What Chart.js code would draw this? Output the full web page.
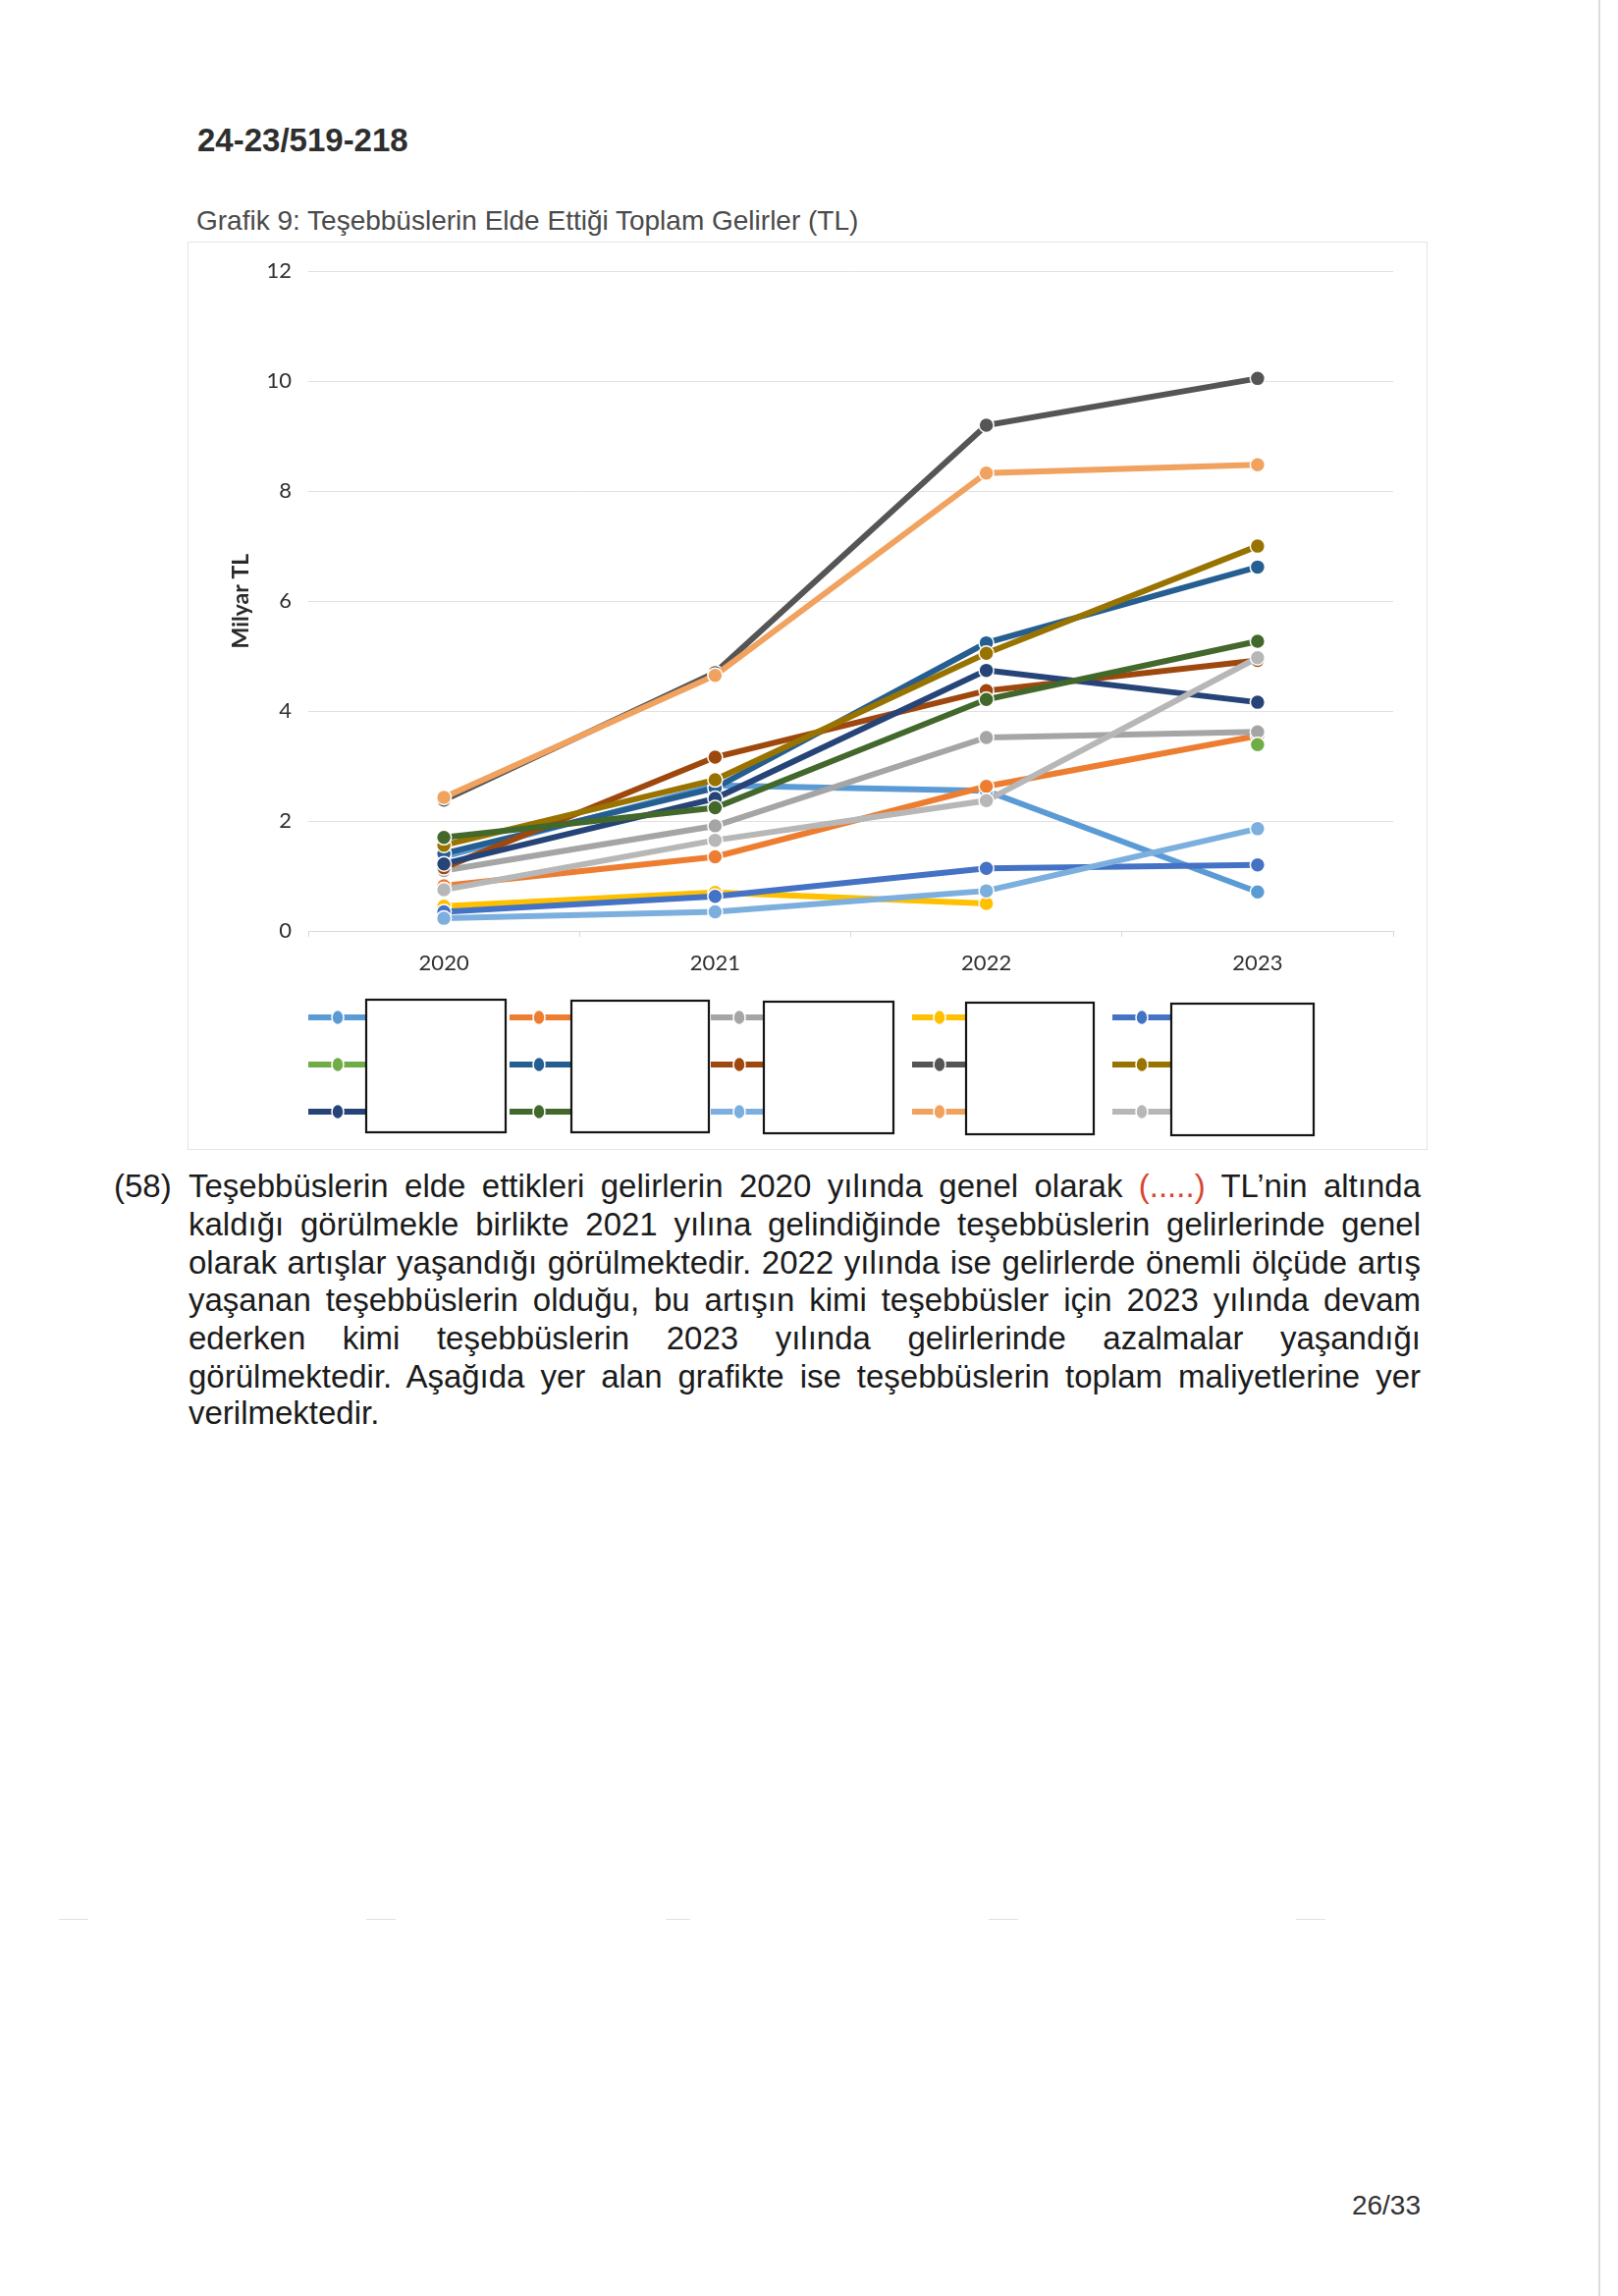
<!DOCTYPE html>
<html>
<head>
<meta charset="UTF-8">
<title>Grafik 9: Teşebbüslerin Elde Ettiği Toplam Gelirler (TL)</title>
<script src="https://cdn.jsdelivr.net/npm/chart.js"></script>
<style>
  body { margin:0; background:#fff; width:1648px; height:2338px; position:relative; overflow:hidden;
         font-family:"Liberation Sans", Arial, sans-serif; color:#1b1b1b; }
  .abs { position:absolute; white-space:nowrap; }
  #docNo { left:201px; top:123px; font-size:33px; line-height:40px; font-weight:bold; color:#2e2e2e; }
  #caption { left:200px; top:208px; font-size:28px; line-height:34px; color:#4a4a4a; }
  #frame { position:absolute; left:191px; top:246px; width:1263px; height:925px; border:1px solid #e4e4e4; box-sizing:border-box; }
  #chart { position:absolute; left:191px; top:246px; }
  .ln { position:absolute; left:192px; width:1255px; font-size:33px; line-height:38px; text-align:justify; text-align-last:justify; }
  .ln.last { text-align-last:left; }
  #num { left:116px; top:1189px; font-size:33px; line-height:38px; }
  .red { color:#d8452f; }
  #page { right:201px; top:2229px; font-size:28px; line-height:34px; color:#333; }
  #edge { position:absolute; left:1628px; top:0; width:2px; height:2338px; background:#dcdcdc; }
  .dash { position:absolute; top:1954px; height:1px; background:#e2e2e2; }
</style>
</head>
<body>
<div id="docNo" class="abs">24-23/519-218</div>
<div id="caption" class="abs">Grafik 9: Teşebbüslerin Elde Ettiği Toplam Gelirler (TL)</div>
<div id="frame"></div>
<canvas id="chart" width="1263" height="925"></canvas>

<div id="num" class="abs">(58)</div>
<div class="ln" style="top:1189px">Teşebbüslerin elde ettikleri gelirlerin 2020 yılında genel olarak <span class="red">(.....)</span> TL’nin altında</div>
<div class="ln" style="top:1228px">kaldığı görülmekle birlikte 2021 yılına gelindiğinde teşebbüslerin gelirlerinde genel</div>
<div class="ln" style="top:1267px">olarak artışlar yaşandığı görülmektedir. 2022 yılında ise gelirlerde önemli ölçüde artış</div>
<div class="ln" style="top:1305px">yaşanan teşebbüslerin olduğu, bu artışın kimi teşebbüsler için 2023 yılında devam</div>
<div class="ln" style="top:1344px">ederken kimi teşebbüslerin 2023 yılında gelirlerinde azalmalar yaşandığı</div>
<div class="ln" style="top:1383px">görülmektedir. Aşağıda yer alan grafikte ise teşebbüslerin toplam maliyetlerine yer</div>
<div class="ln last" style="top:1420px">verilmektedir.</div>

<div class="dash" style="left:60px;width:30px"></div>
<div class="dash" style="left:373px;width:30px"></div>
<div class="dash" style="left:678px;width:25px"></div>
<div class="dash" style="left:1007px;width:30px"></div>
<div class="dash" style="left:1320px;width:30px"></div>
<div id="edge"></div>
<div id="page" class="abs">26/33</div>

<script>
  // years on the x axis
  const years = ['2020', '2021', '2022', '2023'];

  // total income per enterprise, billion TL (names are blanked in the source)
  const t01 = [1.35, 2.65, 2.55, 0.71];
  const t02 = [0.82, 1.35, 2.63, 3.55];
  const t03 = [1.10, 1.91, 3.52, 3.62];
  const t04 = [0.45, 0.70, 0.50, null];
  const t05 = [0.35, 0.63, 1.14, 1.20];
  const t06 = [null, null, null, 3.39];
  const t07 = [1.41, 2.60, 5.24, 6.62];
  const t08 = [1.15, 3.16, 4.37, 4.92];
  const t09 = [2.38, 4.70, 9.20, 10.05];
  const t10 = [1.56, 2.75, 5.05, 7.00];
  const t11 = [1.22, 2.41, 4.74, 4.16];
  const t12 = [1.70, 2.24, 4.21, 5.27];
  const t13 = [0.23, 0.35, 0.73, 1.86];
  const t14 = [2.43, 4.65, 8.33, 8.48];
  const t15 = [0.75, 1.65, 2.37, 4.97];

  const seriesValues = [t01, t02, t03, t04, t05, t06, t07, t08, t09, t10, t11, t12, t13, t14, t15];
  const seriesColors = ['#5B9BD5', '#ED7D31', '#A5A5A5', '#FFC000', '#4472C4',
                        '#70AD47', '#255E91', '#9E480E', '#555555', '#997300',
                        '#264478', '#43682B', '#7CAFDD', '#F0A25E', '#B7B7B7'];

  // legend layout (canvas px): symbol start, marker centre, blank box span
  const legendCols = [
    { sym: 123, mark: 153, box: 182, end: 324, top: 772, bottom: 907 },
    { sym: 328, mark: 358, box: 391, end: 531, top: 773, bottom: 907 },
    { sym: 533, mark: 562, box: 587, end: 719, top: 774, bottom: 908 },
    { sym: 738, mark: 766, box: 793, end: 923, top: 775, bottom: 909 },
    { sym: 942, mark: 972, box: 1002, end: 1147, top: 776, bottom: 910 }
  ];
  const legendRows = [790, 838, 886];

  const boxedLegend = {
    id: 'boxedLegend',
    afterDraw(chart) {
      const ctx = chart.ctx;
      chart.data.datasets.forEach((ds, i) => {
        const c = legendCols[i % 5];
        const y = legendRows[Math.floor(i / 5)];
        ctx.save();
        ctx.strokeStyle = ds.borderColor;
        ctx.lineWidth = 6;
        ctx.beginPath();
        ctx.moveTo(c.sym, y);
        ctx.lineTo(c.box, y);
        ctx.stroke();
        ctx.beginPath();
        ctx.ellipse(c.mark, y, 6, 7.5, 0, 0, Math.PI * 2);
        ctx.fillStyle = ds.borderColor;
        ctx.fill();
        ctx.lineWidth = 1.5;
        ctx.strokeStyle = '#ffffff';
        ctx.stroke();
        ctx.restore();
      });
      legendCols.forEach(c => {
        ctx.save();
        ctx.fillStyle = '#ffffff';
        ctx.fillRect(c.box, c.top, c.end - c.box, c.bottom - c.top);
        ctx.strokeStyle = '#151515';
        ctx.lineWidth = 2.2;
        ctx.strokeRect(c.box, c.top, c.end - c.box, c.bottom - c.top);
        ctx.restore();
      });
    }
  };

  new Chart(document.getElementById('chart'), {
    type: 'line',
    data: {
      labels: years,
      datasets: seriesValues.map((vals, i) => ({
        label: 'Teşebbüs ' + (i + 1),
        data: vals,
        borderColor: seriesColors[i],
        backgroundColor: seriesColors[i],
        pointBackgroundColor: seriesColors[i],
        pointBorderColor: '#ffffff',
        pointBorderWidth: 1.5,
        pointRadius: 7.5,
        borderWidth: 6,
        tension: 0,
        spanGaps: false,
        order: seriesValues.length - i
      }))
    },
    options: {
      responsive: false,
      animation: false,
      devicePixelRatio: 1,
      layout: { padding: { top: 24, right: 35, left: 0, bottom: 0 } },
      plugins: {
        legend: { display: false },
        tooltip: { enabled: false },
        title: { display: false }
      },
      scales: {
        x: {
          offset: true,
          grid: { drawOnChartArea: false, drawTicks: true, tickLength: 6, color: '#d9d9d9', offset: true },
          border: { display: true, color: '#d9d9d9', width: 1 },
          ticks: { color: '#303030', padding: 14, font: { family: 'Lato', size: 22 } },
          afterFit(scale) { scale.height = 223; }
        },
        y: {
          min: 0,
          max: 12,
          ticks: { stepSize: 2, color: '#303030', padding: 17, font: { family: 'Lato', size: 22 } },
          grid: { color: '#e1e1e1', lineWidth: 1, drawTicks: false },
          border: { display: false },
          title: {
            display: true,
            text: 'Milyar TL',
            color: '#2a2a2a',
            font: { family: 'Lato', size: 23, weight: 'bold' },
            padding: { top: 41, bottom: 0 }
          },
          afterFit(scale) { scale.width = 123; }
        }
      }
    },
    plugins: [boxedLegend]
  });
</script>
</body>
</html>
